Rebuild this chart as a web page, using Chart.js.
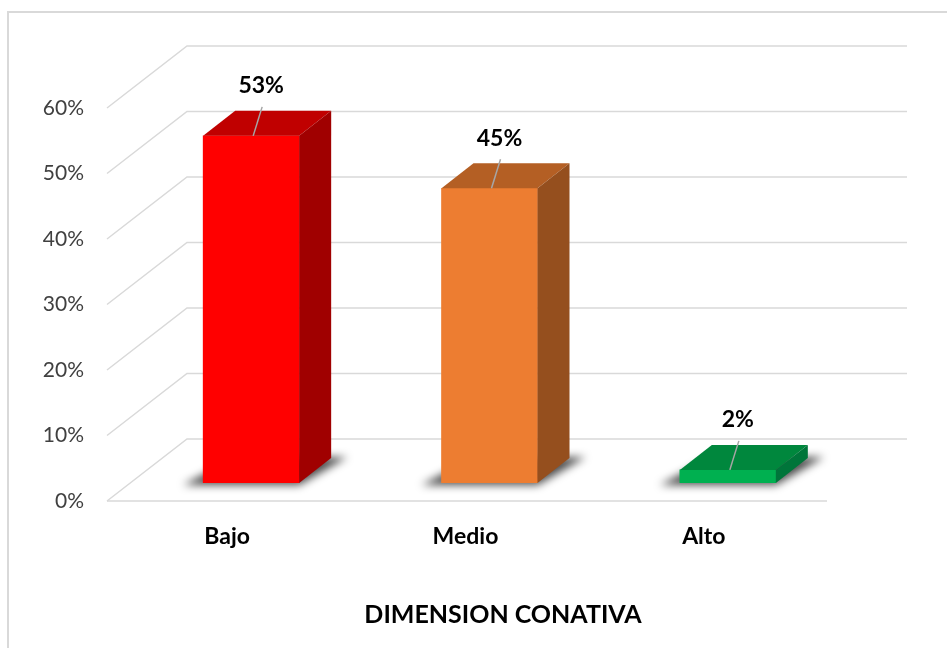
<!DOCTYPE html>
<html><head><meta charset="utf-8">
<script src="https://cdn.jsdelivr.net/npm/chart.js@4/dist/chart.umd.min.js"></script>
<style>html,body{margin:0;padding:0;background:#fff;overflow:hidden;width:947px;height:648px}#wrap{position:relative;width:947px;height:648px;overflow:hidden}canvas{position:absolute;left:0;top:0}</style>
</head><body><div id="wrap"><canvas id="c" width="1006" height="648"></canvas></div>
<script>
const categories = ['Bajo', 'Medio', 'Alto'];
const values = [0.53, 0.45, 0.02];
const valueLabels = ['53%', '45%', '2%'];
const yTickLabels = ['0%', '10%', '20%', '30%', '40%', '50%', '60%'];
const frontColors = ['#FF0000', '#ED7D31', '#00B050'];
const topColors = ['#C00000', '#B45F24', '#00873D'];
const sideColors = ['#A00000', '#954F1E', '#00753A'];
const axisTitle = 'DIMENSION CONATIVA';

const DX = 80, DY = -62, FRONT_OFF = 18;
const BDX = 32, BDY = -25;
const FONT = 'Lato';

const threeD = {
  id: 'threeD',
  beforeDraw(chart) {
    const ctx = chart.ctx;
    ctx.save();
    ctx.strokeStyle = '#d9d9d9';
    ctx.lineWidth = 2;
    ctx.strokeRect(8, 12, 1200, 1200);
    ctx.restore();
  },
  beforeDatasetsDraw(chart) {
    const { ctx, chartArea: a, scales: { y } } = chart;
    const fl = a.left - 25, fr = a.right - 20;
    ctx.save();
    ctx.strokeStyle = '#d9d9d9';
    ctx.lineWidth = 1.5;
    y.ticks.forEach(t => {
      const yf = y.getPixelForValue(t.value) + FRONT_OFF;
      const yb = yf + DY;
      ctx.beginPath();
      ctx.moveTo(fl, yf);
      ctx.lineTo(fl + DX, yb);
      ctx.lineTo(fr + DX, yb);
      ctx.stroke();
    });
    const y0 = y.getPixelForValue(0) + FRONT_OFF;
    ctx.beginPath();
    ctx.moveTo(fl, y0);
    ctx.lineTo(fr, y0);
    ctx.stroke();
    const meta = chart.getDatasetMeta(0);
    meta.data.forEach(bar => {
      const x0 = bar.x - bar.width / 2, x1 = bar.x + bar.width / 2, yb = bar.base;
      ctx.save();
      ctx.filter = 'blur(4px)';
      ctx.fillStyle = 'rgba(0,0,0,0.7)';
      ctx.beginPath();
      ctx.moveTo(x0 - 20, yb + 2);
      ctx.lineTo(x1, yb + 2);
      ctx.lineTo(x1 + BDX + 16, yb + BDY - 1);
      ctx.lineTo(x0 + BDX, yb + BDY);
      ctx.closePath();
      ctx.fill();
      ctx.restore();
    });
    ctx.restore();
  },
  afterDatasetsDraw(chart) {
    const ctx = chart.ctx;
    const meta = chart.getDatasetMeta(0);
    ctx.save();
    meta.data.forEach((bar, i) => {
      const x0 = bar.x - bar.width / 2, x1 = bar.x + bar.width / 2, yt = bar.y, yb = bar.base;
      ctx.fillStyle = topColors[i];
      ctx.beginPath();
      ctx.moveTo(x0, yt); ctx.lineTo(x1, yt); ctx.lineTo(x1 + BDX, yt + BDY); ctx.lineTo(x0 + BDX, yt + BDY);
      ctx.closePath(); ctx.fill();
      ctx.fillStyle = sideColors[i];
      ctx.beginPath();
      ctx.moveTo(x1, yt); ctx.lineTo(x1 + BDX, yt + BDY); ctx.lineTo(x1 + BDX, yb + BDY); ctx.lineTo(x1, yb);
      ctx.closePath(); ctx.fill();
      ctx.strokeStyle = '#a6a6a6';
      ctx.lineWidth = 1.5;
      ctx.beginPath();
      ctx.moveTo(bar.x + 2, yt);
      ctx.lineTo(bar.x + 11, yt - 29);
      ctx.stroke();
      ctx.fillStyle = '#000';
      ctx.font = 'bold 23px ' + FONT;
      ctx.textAlign = 'center';
      ctx.textBaseline = 'middle';
      ctx.fillText(valueLabels[i], bar.x + 10, yt - 50);
    });
    ctx.restore();
  }
};

new Chart(document.getElementById('c'), {
  type: 'bar',
  data: {
    labels: categories,
    datasets: [{
      data: values,
      backgroundColor: frontColors,
      borderWidth: 0,
      barThickness: 96
    }]
  },
  options: {
    responsive: false,
    animation: false,
    layout: { padding: { left: 0, right: 0, top: 90, bottom: 0 } },
    plugins: {
      legend: { display: false },
      tooltip: { enabled: false },
      title: {
        display: true,
        position: 'bottom',
        text: axisTitle,
        color: '#000',
        font: { family: FONT, size: 25, weight: 'bold' },
        padding: { top: 27, bottom: 18 }
      }
    },
    scales: {
      x: {
        type: 'category',
        offset: true,
        grid: { display: false, drawTicks: false },
        border: { display: false },
        ticks: { color: '#000', font: { family: FONT, size: 23, weight: 'bold' }, padding: 40, labelOffset: -24 },
        afterFit(s) { s.height = 90; }
      },
      y: {
        min: 0, max: 0.6,
        grid: { display: false, drawTicks: false },
        border: { display: false },
        ticks: {
          stepSize: 0.1,
          color: '#404040',
          font: { family: FONT, size: 21 },
          padding: 48,
          labelOffset: 18,
          callback: (v, i) => yTickLabels[i]
        },
        afterFit(s) { s.width = 132; }
      },
      y2: {
        position: 'right',
        grid: { display: false, drawTicks: false },
        border: { display: false },
        ticks: { display: false },
        afterFit(s) { s.width = 159; }
      }
    }
  },
  plugins: [threeD]
});
</script>
</body></html>
